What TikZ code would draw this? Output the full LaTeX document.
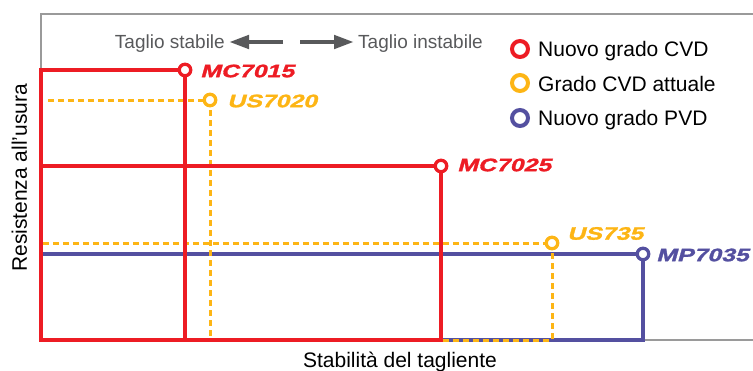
\documentclass[tikz,border=0pt]{standalone}
\usepackage{fontspec}
\setmainfont{Liberation Sans}
\newfontfamily\gradefont[FakeStretch=1.38,FakeSlant=0.28,FakeBold=1.6]{Liberation Sans Bold}
\usetikzlibrary{arrows.meta}
\definecolor{cvdred}{HTML}{ED1C24}
\definecolor{cvdorange}{HTML}{FDB515}
\definecolor{pvdblue}{HTML}{5450A0}
\definecolor{txtgray}{HTML}{58595B}
\definecolor{framegray}{HTML}{9A9A9A}
\pgfdeclarelayer{bg}
\pgfsetlayers{bg,main}
\begin{document}
\begin{tikzpicture}[x=1pt,y=-1pt,
  frame/.style={draw=framegray,line width=1.5pt},
  redline/.style={draw=cvdred,line width=4pt,line cap=rect},
  orline/.style={draw=cvdorange,line width=3pt,dash pattern=on 6pt off 4pt},
  blueline/.style={draw=pvdblue,line width=3.4pt},
  pt/.style={circle,draw=#1,fill=white,line width=3.3pt,minimum size=11.5pt,inner sep=0pt},
  lg/.style={circle,draw=#1,fill=white,line width=4pt,minimum size=16pt,inner sep=0pt},
  grade/.style={font=\gradefont\fontsize{18}{18}\selectfont,text=#1,anchor=west,inner sep=0pt},
  big/.style={font=\fontsize{21}{25}\selectfont,inner sep=0pt},
  toptxt/.style={font=\fontsize{19}{23}\selectfont,text=txtgray,inner sep=0pt},
  garrow/.style={draw=txtgray,line width=4.5pt,-{Triangle[length=20pt,width=13pt]}}
]
\useasboundingbox (0,0) rectangle (753,370);

% points
\node[pt=cvdred] (mc7015) at (185,70) {};
\node[pt=cvdorange] (us7020) at (210,100) {};
\node[pt=cvdred] (mc7025) at (441,166) {};
\node[pt=cvdorange] (us735) at (552,243) {};
\node[pt=pvdblue] (mp7035) at (643,254) {};

\coordinate (o) at (41,340);
\coordinate (ftl) at (41,14);
\coordinate (ftr) at (753,14);
\coordinate (fbr) at (753,340);
\coordinate (r1l) at (41,70);
\coordinate (r2l) at (41,166);
\coordinate (r1b) at (185,340);
\coordinate (r2b) at (441,340);
\coordinate (o1l) at (48,100);
\coordinate (o1b) at (210,340);
\coordinate (o2l) at (43,243);
\coordinate (o2b) at (552,340);
\coordinate (b1l) at (43,254);
\coordinate (b1b) at (643,340);

\begin{pgfonlayer}{bg}
  \draw[frame] (ftr) -- (ftl) -- (o) -- (fbr);
  \draw[blueline] (b1l) -- (mp7035.center);
  \draw[blueline] (mp7035.center) -- (b1b) -- (r2b);
  \draw[orline] (o1l) -- (us7020.center);
  \draw[orline] (us7020.center) -- (o1b);
  \draw[orline] (o2l) -- (us735.center);
  \draw[orline] (us735.center) -- (o2b) -- (r2b);
  \draw[redline] (r1l) -- (mc7015.center);
  \draw[redline] (mc7015.center) -- (r1b);
  \draw[redline] (r1l) -- (o) -- (r2b);
  \draw[redline] (r2l) -- (mc7025.center);
  \draw[redline] (mc7025.center) -- (r2b);
\end{pgfonlayer}

% grade labels
\node[grade=cvdred] (t7015) at (200,71) {MC7015};
\node[grade=cvdorange] (t7020) at (227,101) {US7020};
\node[grade=cvdred] (t7025) at (457,165) {MC7025};
\node[grade=cvdorange] (t735) at (567,233.5) {US735};
\node[grade=pvdblue] (t7035) at (656,255) {MP7035};

% top indications
\node[toptxt,anchor=base east] (stab) at (225,48) {Taglio stabile};
\node[toptxt,anchor=base west] (instab) at (358,48) {Taglio instabile};
\coordinate (al1) at (283,42);
\coordinate (ar1) at (300,42);
\draw[garrow] (al1) -- ([xshift=4pt]stab.east |- al1);
\draw[garrow] (ar1) -- ([xshift=-4pt]instab.west |- ar1);

% legend
\node[lg=cvdred] (l1) at (520,49) {};
\node[lg=cvdorange] (l2) at (520,83) {};
\node[lg=pvdblue] (l3) at (520,118) {};
\node[big,anchor=base west] (l1t) at (538,56) {Nuovo grado CVD};
\node[big,anchor=base west] (l2t) at (538,91) {Grado CVD attuale};
\node[big,anchor=base west] (l3t) at (538,125) {Nuovo grado PVD};

% axis labels
\node[big,rotate=90,anchor=base west] (ylab) at (27,272) {Resistenza all'usura};
\node[big,anchor=base] (xlab) at (400,367) {Stabilità del tagliente};
\end{tikzpicture}
\end{document}
